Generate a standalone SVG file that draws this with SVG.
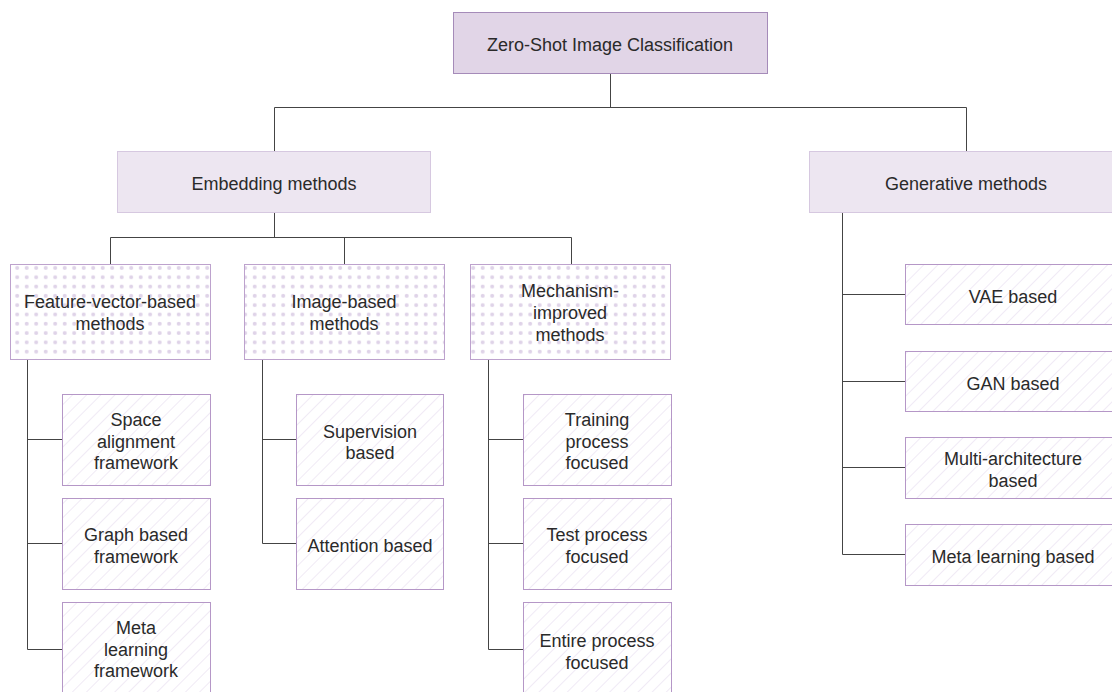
<svg xmlns="http://www.w3.org/2000/svg" width="1112" height="692" viewBox="0 0 1112 692">
<defs>
<pattern id="dots" width="9.5" height="9.3" patternUnits="userSpaceOnUse" x="3" y="3">
<circle cx="4.7" cy="4.6" r="2" fill="#dfd3e8"/>
</pattern>
<pattern id="hatch" width="10" height="10" patternUnits="userSpaceOnUse" patternTransform="rotate(45)">
<line x1="0" y1="0" x2="0" y2="10" stroke="#e6dbee" stroke-width="1.2"/>
</pattern>
<style>
.root{fill:#e1d5e7;stroke:#a58bb9;stroke-width:1}
.l1{fill:#ede6f1;stroke:#d6c8e0;stroke-width:1}
.dot{fill:url(#dots);stroke:#bda2cd;stroke-width:1}
.hat{fill:url(#hatch);stroke:#b597c7;stroke-width:1}
.bg{fill:#ffffff}
text{font-family:"Liberation Sans",Arial,Helvetica,sans-serif;font-size:18px;fill:#2a2a2a;text-anchor:middle}
.c path{fill:none;stroke:#444;stroke-width:1}
</style>
</defs>
<rect width="1112" height="692" fill="#ffffff"/>
<g class="c" id="connectors">
<path d="M610.5 73 V107.5 M274.5 107.5 H966.5 M274.5 107.5 V151 M966.5 107.5 V151"/>
<path d="M274.5 212 V237.5 M110.5 237.5 H571.5 M110.5 237.5 V264 M344.5 237.5 V264 M571.5 237.5 V264"/>
<path d="M27.5 359 V649.5 M27.5 439.5 H62 M27.5 543.5 H62 M27.5 649.5 H62"/>
<path d="M262.5 359 V543.5 M262.5 439.5 H296 M262.5 543.5 H296"/>
<path d="M488.5 359 V649.5 M488.5 439.5 H523 M488.5 543.5 H523 M488.5 649.5 H523"/>
<path d="M842.5 212 V554.5 M842.5 294.5 H905 M842.5 381.5 H905 M842.5 467.5 H905 M842.5 554.5 H905"/>
</g>
<g id="root"><rect class="root" x="453.5" y="12.5" width="314" height="61"/><text x="610" y="51">Zero-Shot Image Classification</text></g>
<g id="embedding"><rect class="l1" x="117.5" y="151.5" width="313" height="61"/><text x="274" y="190">Embedding methods</text></g>
<g id="generative"><rect class="l1" x="809.5" y="151.5" width="314" height="61"/><text x="966" y="190">Generative methods</text></g>

<g id="feature"><rect class="bg" x="10.5" y="264.5" width="200" height="95"/><rect class="dot" x="10.5" y="264.5" width="200" height="95"/><text x="110" y="308">Feature-vector-based</text><text x="110" y="330">methods</text></g>
<g id="imagebased"><rect class="bg" x="244.5" y="264.5" width="200" height="95"/><rect class="dot" x="244.5" y="264.5" width="200" height="95"/><text x="344" y="308">Image-based</text><text x="344" y="330">methods</text></g>
<g id="mechanism"><rect class="bg" x="470.5" y="264.5" width="200" height="95"/><rect class="dot" x="470.5" y="264.5" width="200" height="95"/><text x="570" y="297">Mechanism-</text><text x="570" y="319">improved</text><text x="570" y="341">methods</text></g>

<g id="space"><rect class="hat" x="62.5" y="394.5" width="148" height="91"/><text x="136" y="426">Space</text><text x="136" y="448">alignment</text><text x="136" y="469">framework</text></g>
<g id="graph"><rect class="hat" x="62.5" y="498.5" width="148" height="91"/><text x="136" y="541">Graph based</text><text x="136" y="563">framework</text></g>
<g id="metafw"><rect class="hat" x="62.5" y="602.5" width="148" height="91"/><text x="136" y="634">Meta</text><text x="136" y="656">learning</text><text x="136" y="677">framework</text></g>

<g id="supervision"><rect class="hat" x="296.5" y="394.5" width="147" height="91"/><text x="370" y="438">Supervision</text><text x="370" y="459">based</text></g>
<g id="attention"><rect class="hat" x="296.5" y="498.5" width="147" height="91"/><text x="370" y="552">Attention based</text></g>

<g id="training"><rect class="hat" x="523.5" y="394.5" width="148" height="91"/><text x="597" y="426">Training</text><text x="597" y="448">process</text><text x="597" y="469">focused</text></g>
<g id="test"><rect class="hat" x="523.5" y="498.5" width="148" height="91"/><text x="597" y="541">Test process</text><text x="597" y="563">focused</text></g>
<g id="entire"><rect class="hat" x="523.5" y="602.5" width="148" height="91"/><text x="597" y="647">Entire process</text><text x="597" y="669">focused</text></g>

<g id="vae"><rect class="hat" x="905.5" y="264.5" width="216" height="60"/><text x="1013" y="303">VAE based</text></g>
<g id="gan"><rect class="hat" x="905.5" y="351.5" width="216" height="60"/><text x="1013" y="390">GAN based</text></g>
<g id="multi"><rect class="hat" x="905.5" y="437.5" width="216" height="61"/><text x="1013" y="465">Multi-architecture</text><text x="1013" y="487">based</text></g>
<g id="metabased"><rect class="hat" x="905.5" y="524.5" width="216" height="61"/><text x="1013" y="563">Meta learning based</text></g>
</svg>
